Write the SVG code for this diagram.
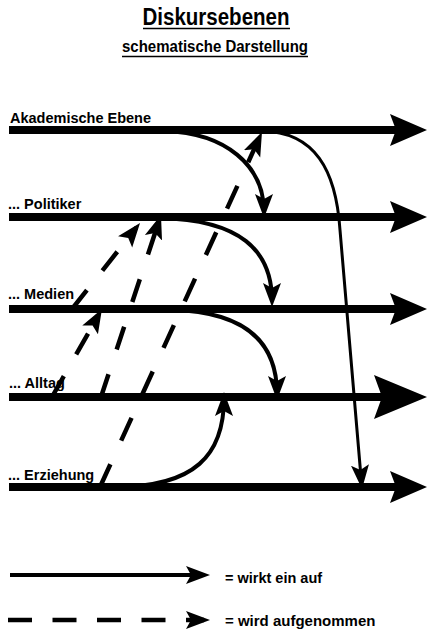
<svg xmlns="http://www.w3.org/2000/svg" width="429" height="633" viewBox="0 0 429 633">
<style>
  .t { font-family: "Liberation Sans", Arial, sans-serif; font-weight: bold; fill: #000; }
  .lbl { font-size: 14.5px; }
  .level { fill: none; stroke: #000; stroke-width: 8; stroke-linecap: butt; }
  .solid { fill: none; stroke: #000; stroke-width: 4; stroke-linecap: butt; }
  .thin { fill: none; stroke: #000; stroke-width: 3; }
  .dash { fill: none; stroke: #000; stroke-width: 4.5; stroke-dasharray: 24 25; stroke-linecap: butt; }
  .ul { stroke: #000; stroke-width: 1.6; }
</style>
<defs>
  <marker id="big" viewBox="0 -17 38 34" refX="25" refY="0" markerWidth="38" markerHeight="34" markerUnits="userSpaceOnUse" orient="auto">
    <path d="M0,-16 L37,0 L0,16 L6,0 Z" fill="#000"/>
  </marker>
  <marker id="huge" viewBox="0 -23 54 46" refX="39" refY="0" markerWidth="54" markerHeight="46" markerUnits="userSpaceOnUse" orient="auto">
    <path d="M0,-22 L53,0 L0,22 L8,0 Z" fill="#000"/>
  </marker>
  <marker id="head" viewBox="0 -10 26 20" refX="18" refY="0" markerWidth="26" markerHeight="20" markerUnits="userSpaceOnUse" orient="auto">
    <path d="M0,-9 L24,0 L0,9 L5,0 Z" fill="#000"/>
  </marker>
</defs>
<rect width="429" height="633" fill="#fff"/>

<g id="title">
  <text class="t" x="216" y="25" font-size="23" text-anchor="middle" textLength="147" lengthAdjust="spacingAndGlyphs">Diskursebenen</text>
  <line class="ul" x1="143" y1="28.5" x2="290" y2="28.5"/>
  <text class="t" x="215" y="52" font-size="16.5" text-anchor="middle" textLength="186" lengthAdjust="spacingAndGlyphs">schematische Darstellung</text>
  <line class="ul" x1="122" y1="56.5" x2="308" y2="56.5"/>
</g>

<g id="level-akademisch">
  <text class="t lbl" x="10" y="123">Akademische Ebene</text>
  <path class="level" d="M9,130 L415,130" marker-end="url(#big)"/>
</g>
<g id="level-politiker">
  <text class="t lbl" x="8" y="209">... Politiker</text>
  <path class="level" d="M9,217 L415,217" marker-end="url(#big)"/>
</g>
<g id="level-medien">
  <text class="t lbl" x="8" y="299">... Medien</text>
  <path class="level" d="M9,309 L415,309" marker-end="url(#big)"/>
</g>
<g id="level-alltag">
  <text class="t lbl" x="9" y="388">... Alltag</text>
  <path class="level" d="M9,397 L413,397" stroke-width="10" marker-end="url(#huge)"/>
</g>
<g id="level-erziehung">
  <text class="t lbl" x="8" y="480">... Erziehung</text>
  <path class="level" d="M9,487 L415,487" marker-end="url(#big)"/>
</g>

<g id="connectors">
  <path class="solid" d="M165,131 C225,133 264,165 264,212" marker-end="url(#head)"/>
  <path class="solid" d="M160,218 C240,220 272,250 272,301" marker-end="url(#head)"/>
  <path class="solid" d="M170,310 C245,311 277,342 277,394" marker-end="url(#head)"/>
  <path class="solid" d="M115,487 C195,487 224,455 224,398" marker-end="url(#head)"/>
  <path class="thin" d="M262,131 C315,132 336,170 340,230 L361.5,483" marker-end="url(#head)"/>

  <path class="dash" d="M52,397 L99,314.2" marker-end="url(#head)"/>
  <path class="dash" d="M72,309 L136.3,227.7" marker-end="url(#head)"/>
  <path class="dash" d="M101,397 L159.1,220.7" style="stroke-dasharray:24 26" marker-end="url(#head)"/>
  <path class="dash" d="M100,487 L259.5,137.5" style="stroke-dasharray:25 26" marker-end="url(#head)"/>
</g>

<g id="legend">
  <path class="solid" d="M10,575 L204,575" stroke-width="4.5" marker-end="url(#head)"/>
  <text class="t" x="225" y="583" font-size="14.5">= wirkt ein auf</text>
  <path class="dash" d="M8,620 L204,620" stroke-width="5" style="stroke-dasharray:24 20.5" marker-end="url(#head)"/>
  <text class="t" x="225" y="626" font-size="15">= wird aufgenommen</text>
</g>
</svg>
